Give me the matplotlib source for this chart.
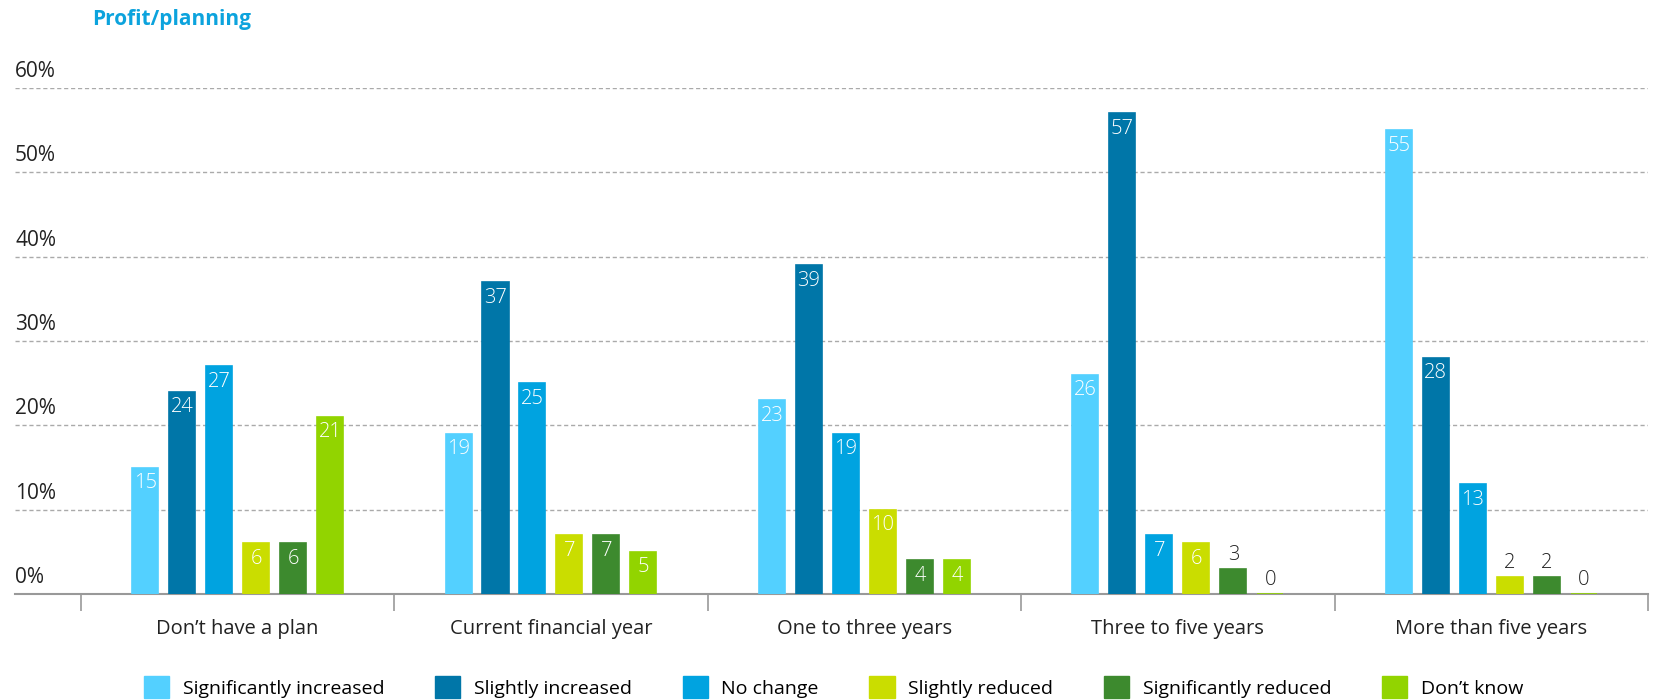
import matplotlib.pyplot as plt
from matplotlib.patches import Patch
import numpy as np

plt.rcParams['font.family'] = ['Open Sans', 'DejaVu Sans']

# Data
categories = ["Don\u2019t have a plan", "Current financial year", "One to three years",
              "Three to five years", "More than five years"]
series = ["Significantly increased", "Slightly increased", "No change",
          "Slightly reduced", "Significantly reduced", "Don\u2019t know"]
sig_increased = [15, 19, 23, 26, 55]
sl_increased = [24, 37, 39, 57, 28]
no_change = [27, 25, 19, 7, 13]
sl_reduced = [6, 7, 10, 6, 2]
sig_reduced = [6, 7, 4, 3, 2]
dont_know = [21, 5, 4, 0, 0]
yticks = [0, 10, 20, 30, 40, 50, 60]

values = [sig_increased, sl_increased, no_change, sl_reduced, sig_reduced, dont_know]
colors = ['#53D0FF', '#0076A8', '#00A3E0', '#CADD00', '#3D8A2E', '#92D400']

fig = plt.figure(figsize=(16.6, 7), dpi=100)
ax = fig.add_axes([15 / 1660, 1 - 594 / 700, (1648 - 15) / 1660, 506 / 700])

x = np.arange(len(categories))
step = 0.118
width = 0.083
for i, (vals, col) in enumerate(zip(values, colors)):
    xs = x + (i - 2.5) * step
    ax.bar(xs, vals, width=width, color=col, edgecolor=col, linewidth=1.2, zorder=3)
    for xi, v in zip(xs, vals):
        if v >= 4:
            ax.annotate(str(v), (xi, v), xytext=(0, -4), textcoords='offset points',
                        ha='center', va='top', color='white', fontsize=14.5, fontweight='light', zorder=4)
        else:
            ax.annotate(str(v), (xi, v), xytext=(0, 3), textcoords='offset points',
                        ha='center', va='bottom', color='#222222', fontsize=14.5, fontweight='light', zorder=4)

ax.set_xlim(-0.71, 4.5)
ax.set_ylim(0, 60)

# gridlines + y labels
for t in yticks[1:]:
    ax.axhline(t, color='#aaaaaa', linestyle=(0, (3, 2)), linewidth=1, zorder=1)
for t in yticks:
    ax.text(0, t + 1.3, f'{t}%', transform=ax.get_yaxis_transform(), ha='left', va='baseline',
            fontsize=15, color='#222222')

ax.set_yticks([])
ax.set_xticks(np.arange(len(categories) + 1) - 0.5)
ax.set_xticklabels([])
ax.tick_params(axis='x', length=12, width=1.2, color='#999999')
for xi, c in zip(x, categories):
    ax.text(xi, -4.1, c, ha='center', va='center', fontsize=14.5, color='#222222')

for s in ['top', 'right', 'left']:
    ax.spines[s].set_visible(False)
ax.spines['bottom'].set_color('#999999')
ax.spines['bottom'].set_linewidth(1.5)

fig.text(92 / 1660, 1 - 19 / 700, 'Profit/planning', ha='left', va='center',
         fontsize=15, fontweight='bold', color='#0CA3DD')

handles = [Patch(facecolor=c, edgecolor=c) for c in colors]
fig.legend(handles, series, loc='center left', bbox_to_anchor=(144 / 1660, 1 - 687 / 700),
           ncol=6, frameon=False, fontsize=14, handlelength=1.3, handleheight=1.3,
           handletextpad=0.7, columnspacing=2.6, borderaxespad=0, borderpad=0)

fig.savefig('out.png', dpi=100)
